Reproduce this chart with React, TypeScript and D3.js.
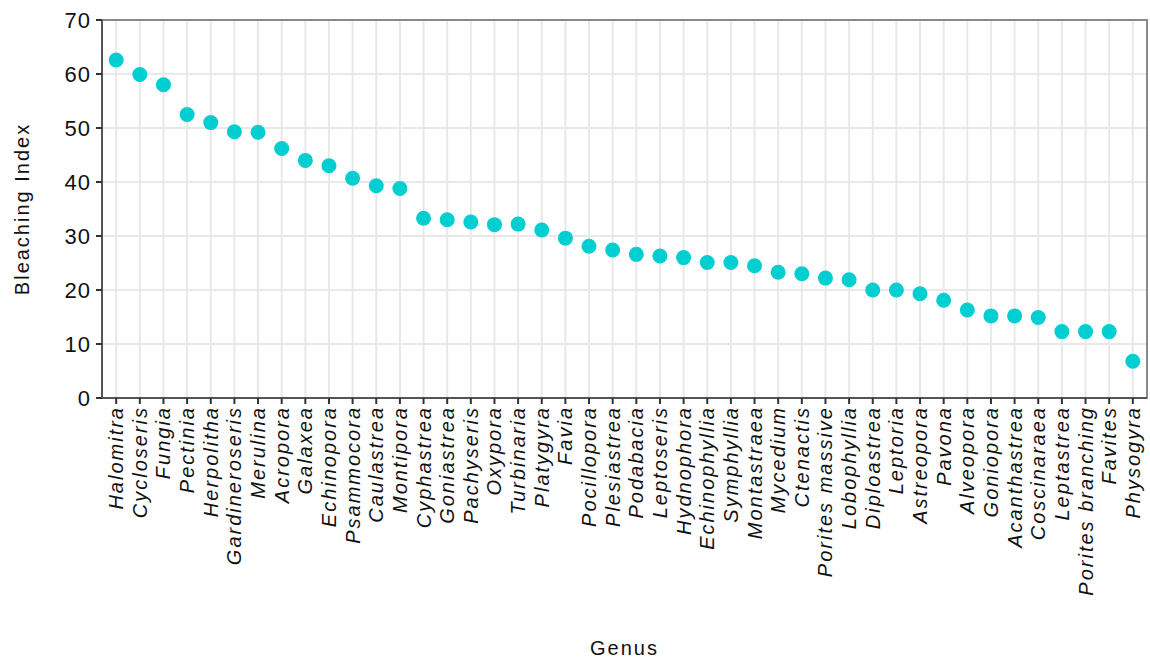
import React from "react";
import * as d3 from "d3";

const genera = [
  "Halomitra", "Cycloseris", "Fungia", "Pectinia", "Herpolitha", "Gardineroseris",
  "Merulina", "Acropora", "Galaxea", "Echinopora", "Psammocora", "Caulastrea",
  "Montipora", "Cyphastrea", "Goniastrea", "Pachyseris", "Oxypora", "Turbinaria",
  "Platygyra", "Favia", "Pocillopora", "Plesiastrea", "Podabacia", "Leptoseris",
  "Hydnophora", "Echinophyllia", "Symphyllia", "Montastraea", "Mycedium", "Ctenactis",
  "Porites massive", "Lobophyllia", "Diploastrea", "Leptoria", "Astreopora", "Pavona",
  "Alveopora", "Goniopora", "Acanthastrea", "Coscinaraea", "Leptastrea",
  "Porites branching", "Favites", "Physogyra",
];

const bleachingIndex = [
  62.6, 59.9, 58.0, 52.5, 51.0, 49.3,
  49.2, 46.2, 44.0, 43.0, 40.7, 39.3,
  38.8, 33.3, 33.0, 32.6, 32.1, 32.2,
  31.1, 29.6, 28.1, 27.4, 26.6, 26.3,
  26.0, 25.1, 25.1, 24.5, 23.3, 23.0,
  22.2, 21.9, 20.0, 20.0, 19.3, 18.1,
  16.3, 15.2, 15.2, 14.9, 12.3,
  12.3, 12.3, 6.8,
];

const yTicks = [0, 10, 20, 30, 40, 50, 60, 70];

const W = 1150;
const H = 662;
const M = { left: 102, right: 3, top: 20, bottom: 264 };

export default function App() {
  const x = d3
    .scalePoint<string>()
    .domain(genera)
    .range([M.left, W - M.right])
    .padding(0.6);
  const y = d3.scaleLinear().domain([0, 70]).range([H - M.bottom, M.top]);

  const x0 = M.left;
  const x1 = W - M.right;
  const y0 = H - M.bottom;
  const y1 = M.top;
  const font = "Arial, 'Liberation Sans', sans-serif";
  const textColor = "#111";

  return (
    <svg
      width={W}
      height={H}
      style={{ position: "absolute", left: 0, top: 0, background: "#fff" }}
      fontFamily={font}
    >
      <rect x={0} y={0} width={W} height={H} fill="#fff" />
      {/* grid */}
      {yTicks.map((t) => (
        <line key={"gy" + t} x1={x0} x2={x1} y1={y(t)} y2={y(t)} stroke="#e8e8e8" strokeWidth={2} />
      ))}
      {genera.map((g) => (
        <line key={"gx" + g} x1={x(g)} x2={x(g)} y1={y0} y2={y1} stroke="#e8e8e8" strokeWidth={2} />
      ))}
      {/* points */}
      {genera.map((g, i) => (
        <circle key={"p" + g} cx={x(g)} cy={y(bleachingIndex[i])} r={7.5} fill="#00CED1" />
      ))}
      {/* panel border */}
      <rect x={x0} y={y1} width={x1 - x0} height={y0 - y1} fill="none" stroke="#8a8a8a" strokeWidth={2} />
      <line x1={x0} x2={x0} y1={y1} y2={y0} stroke="#555" strokeWidth={2} />
      <line x1={x0} x2={x1} y1={y0} y2={y0} stroke="#555" strokeWidth={2} />
      {/* y axis */}
      {yTicks.map((t) => (
        <g key={"yt" + t}>
          <line x1={x0 - 6} x2={x0} y1={y(t)} y2={y(t)} stroke="#333" strokeWidth={2} />
          <text
            x={x0 - 11}
            y={y(t)}
            dy="0.36em"
            textAnchor="end"
            fontSize={22}
            fill={textColor}
            letterSpacing={1}
          >
            {t}
          </text>
        </g>
      ))}
      {/* x axis */}
      {genera.map((g) => (
        <g key={"xt" + g}>
          <line x1={x(g)} x2={x(g)} y1={y0} y2={y0 + 6} stroke="#333" strokeWidth={2} />
          <text
            transform={`translate(${(x(g) as number) + 7},${y0 + 8}) rotate(-90)`}
            textAnchor="end"
            fontSize={20}
            fontStyle="italic"
            fill={textColor}
            letterSpacing={2}
          >
            {g}
          </text>
        </g>
      ))}
      {/* axis titles */}
      <text
        transform={`translate(29,${(y0 + y1) / 2}) rotate(-90)`}
        textAnchor="middle"
        fontSize={20}
        fill={textColor}
        letterSpacing={2}
      >
        Bleaching Index
      </text>
      <text x={(x0 + x1) / 2} y={655} textAnchor="middle" fontSize={20} fill={textColor} letterSpacing={2}>
        Genus
      </text>
    </svg>
  );
}
